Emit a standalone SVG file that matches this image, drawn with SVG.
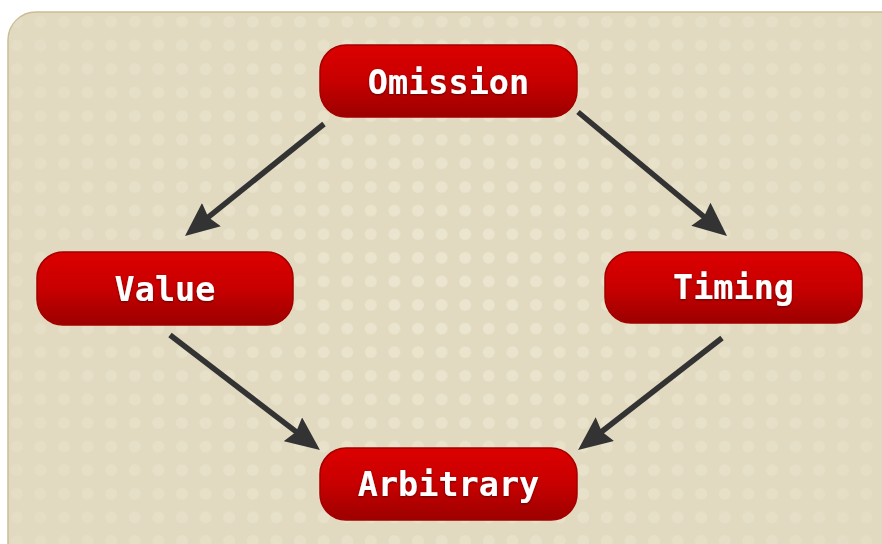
<svg xmlns="http://www.w3.org/2000/svg" width="882" height="544" viewBox="0 0 882 544">
  <defs>
    <style>
      .node rect { fill: url(#red); stroke: #a30000; stroke-width: 1.5; }
      .node text { font-family: "DejaVu Sans Mono", "Liberation Mono", monospace; font-weight: bold; font-size: 33.5px; fill: #ffffff; text-anchor: middle; filter: url(#ts); }
      .conn line { stroke: #333333; stroke-width: 5.5; marker-end: url(#ah); }
    </style>
    <linearGradient id="red" x1="0" y1="0" x2="0" y2="1">
      <stop offset="0" stop-color="#dc0000"/>
      <stop offset="0.5" stop-color="#c80000"/>
      <stop offset="1" stop-color="#9c0000"/>
    </linearGradient>
    <pattern id="dots" x="5" y="10" width="23.6" height="23.6" patternUnits="userSpaceOnUse">
      <circle cx="11.8" cy="11.8" r="6" fill="#ebe5cf"/>
    </pattern>
    <radialGradient id="fade" cx="450" cy="280" r="520" gradientUnits="userSpaceOnUse">
      <stop offset="0" stop-color="#ffffff"/>
      <stop offset="1" stop-color="#444444"/>
    </radialGradient>
    <mask id="m">
      <rect x="0" y="0" width="882" height="544" fill="url(#fade)"/>
    </mask>
    <clipPath id="bgclip">
      <rect x="8" y="12" width="900" height="560" rx="28"/>
    </clipPath>
    <filter id="ts" x="-10%" y="-20%" width="120%" height="150%">
      <feDropShadow dx="0" dy="1" stdDeviation="0.8" flood-color="#500000" flood-opacity="0.8"/>
    </filter>
    <marker id="ah" viewBox="0 0 34 30" refX="12" refY="15" markerWidth="34" markerHeight="30" markerUnits="userSpaceOnUse" orient="auto">
      <path d="M0,0 L34,15 L0,30 L4,15 Z" fill="#333333"/>
    </marker>
  </defs>

  <g id="background">
    <rect x="8" y="12" width="900" height="560" rx="28" fill="#e2dac0" stroke="#cbbd95" stroke-width="1.5"/>
    <g clip-path="url(#bgclip)">
      <rect x="8" y="12" width="900" height="560" fill="url(#dots)" mask="url(#m)"/>
    </g>
  </g>

  <g id="connectors" class="conn">
    <line x1="324" y1="124" x2="202.1" y2="222.2"/>
    <line x1="578" y1="112" x2="710.1" y2="221.9"/>
    <line x1="170" y1="335" x2="302.5" y2="436.6"/>
    <line x1="722" y1="338" x2="595.4" y2="436.5"/>
  </g>

  <g id="omission" class="node">
    <rect x="320" y="45" width="257" height="72" rx="26"/>
    <text x="448.5" y="94">Omission</text>
  </g>
  <g id="value" class="node">
    <rect x="37" y="252" width="256" height="73" rx="26"/>
    <text x="165" y="301">Value</text>
  </g>
  <g id="timing" class="node">
    <rect x="605" y="252" width="257" height="71" rx="26"/>
    <text x="733.5" y="299">Timing</text>
  </g>
  <g id="arbitrary" class="node">
    <rect x="320" y="448" width="257" height="72" rx="26"/>
    <text x="448.5" y="496">Arbitrary</text>
  </g>
</svg>
